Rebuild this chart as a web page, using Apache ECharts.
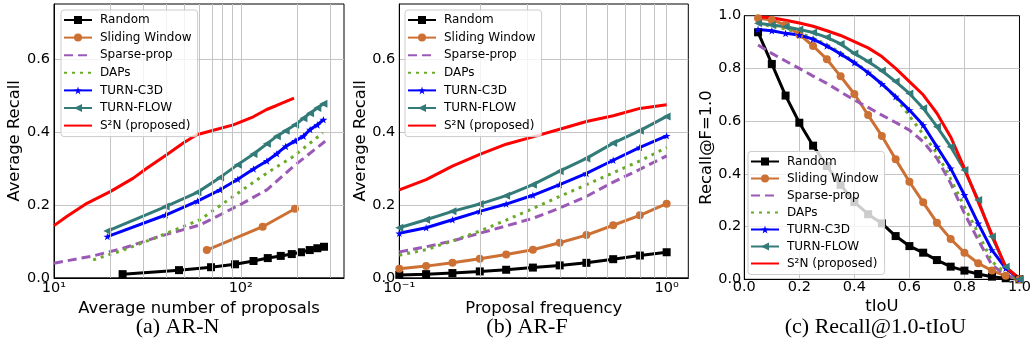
<!DOCTYPE html>
<html><head><meta charset="utf-8">
<script src="https://cdn.jsdelivr.net/npm/echarts@6/dist/echarts.min.js"></script>
<style>html,body{margin:0;padding:0;background:#fff;}#c{width:1034px;height:353px;}</style>
</head><body><div id="c"></div>
<script>
// ---------- (a) AR-N ----------
const aRandomN  = [23.3, 46.7, 69.3, 93.2, 117, 139.5, 163.7, 187.5, 210, 234, 257, 279];
const aRandomAR = [0.010, 0.021, 0.029, 0.037, 0.046, 0.054, 0.060, 0.065, 0.070, 0.076, 0.081, 0.085];
const aSlidingN  = [65.8, 131, 195];
const aSlidingAR = [0.076, 0.140, 0.189];
const aSparseN  = [10, 16.2, 23.5, 35.5, 60.5, 99, 138, 191, 283];
const aSparseAR = [0.040, 0.060, 0.081, 0.111, 0.145, 0.200, 0.241, 0.305, 0.374];
const aDapsN  = [16.2, 23.5, 35.5, 60.5, 99, 138, 191, 275];
const aDapsAR = [0.049, 0.076, 0.111, 0.159, 0.236, 0.287, 0.332, 0.397];
const aTurnN  = [19.3, 39.6, 58.6, 77.5, 96.4, 117, 138, 156, 174, 195.5, 216.6, 235, 257, 277];
const aC3dAR  = [0.113, 0.172, 0.210, 0.241, 0.270, 0.298, 0.320, 0.340, 0.360, 0.375, 0.388, 0.406, 0.419, 0.433];
const aFlowAR = [0.128, 0.195, 0.234, 0.275, 0.310, 0.339, 0.367, 0.388, 0.403, 0.419, 0.437, 0.451, 0.465, 0.477];
const aS2nN  = [10, 11.7, 15.0, 20.0, 26.6, 31.4, 40.1, 49.2, 58.1, 71.3, 91.2, 116.7, 137.6, 155.6, 192.8];
const aS2nAR = [0.143, 0.168, 0.204, 0.236, 0.273, 0.300, 0.337, 0.369, 0.392, 0.404, 0.419, 0.441, 0.461, 0.472, 0.492];
const aMinorTicks = [20, 30, 40, 50, 60, 70, 80, 90, 200, 300];

// ---------- (b) AR-F ----------
const bFreq     = [0.1, 0.126, 0.158, 0.2, 0.251, 0.316, 0.398, 0.501, 0.631, 0.794, 1.0];
const bRandom   = [0.008, 0.010, 0.013, 0.0175, 0.022, 0.028, 0.034, 0.041, 0.051, 0.061, 0.070];
const bSliding  = [0.025, 0.032, 0.041, 0.052, 0.064, 0.077, 0.096, 0.117, 0.144, 0.171, 0.203];
const bSparse   = [0.071, 0.085, 0.101, 0.122, 0.142, 0.163, 0.191, 0.223, 0.262, 0.297, 0.334];
const bDaps     = [0.062, 0.077, 0.101, 0.128, 0.158, 0.190, 0.223, 0.255, 0.288, 0.320, 0.357];
const bC3d      = [0.122, 0.137, 0.159, 0.182, 0.202, 0.226, 0.255, 0.286, 0.322, 0.357, 0.389];
const bFlow     = [0.137, 0.159, 0.182, 0.202, 0.225, 0.255, 0.292, 0.327, 0.369, 0.403, 0.442];
const bS2n      = [0.241, 0.269, 0.306, 0.338, 0.366, 0.386, 0.407, 0.428, 0.444, 0.464, 0.474];
const bMinorTicks = [0.2, 0.3, 0.4, 0.5, 0.6, 0.7, 0.8, 0.9];

// ---------- (c) Recall@1.0-tIoU ----------
const cIoU     = [0.05, 0.10, 0.15, 0.20, 0.25, 0.30, 0.35, 0.40, 0.45, 0.50, 0.55, 0.60, 0.65, 0.70, 0.75, 0.80, 0.85, 0.90, 0.95, 1.00];
const cRandom  = [0.937, 0.817, 0.697, 0.594, 0.507, 0.430, 0.358, 0.293, 0.247, 0.212, 0.164, 0.126, 0.101, 0.073, 0.048, 0.033, 0.020, 0.010, 0.004, 0.0];
const cSliding = [0.990, 0.984, 0.965, 0.929, 0.885, 0.835, 0.770, 0.703, 0.623, 0.544, 0.455, 0.370, 0.292, 0.215, 0.153, 0.101, 0.061, 0.033, 0.013, 0.0];
const cSparse  = [0.889, 0.857, 0.828, 0.800, 0.771, 0.743, 0.711, 0.680, 0.652, 0.623, 0.595, 0.566, 0.522, 0.459, 0.364, 0.250, 0.149, 0.054, 0.016, 0.0];
const cDaps    = [0.970, 0.960, 0.950, 0.935, 0.915, 0.890, 0.860, 0.825, 0.785, 0.742, 0.690, 0.620, 0.550, 0.478, 0.380, 0.275, 0.175, 0.067, 0.023, 0.0];
const cC3d     = [0.948, 0.943, 0.933, 0.927, 0.911, 0.885, 0.855, 0.822, 0.784, 0.741, 0.693, 0.642, 0.585, 0.503, 0.421, 0.320, 0.212, 0.111, 0.042, 0.0];
const cFlow    = [0.971, 0.965, 0.958, 0.948, 0.936, 0.918, 0.893, 0.857, 0.826, 0.791, 0.750, 0.705, 0.649, 0.579, 0.503, 0.415, 0.301, 0.162, 0.048, 0.0];
const cS2n     = [0.996, 0.992, 0.983, 0.972, 0.960, 0.943, 0.925, 0.902, 0.878, 0.845, 0.800, 0.750, 0.700, 0.630, 0.540, 0.421, 0.294, 0.170, 0.045, 0.004];

const names = ['Random', 'Sliding Window', 'Sparse-prop', 'DAPs', 'TURN-C3D', 'TURN-FLOW', 'S\u00B2N (proposed)'];

const FONT = 'DejaVu Sans';
const GRIDC = '#c4c4c4';
const STAR = 'path://M50,0 L61,35 L98,35 L68,57 L79,91 L50,70 L21,91 L32,57 L2,35 L39,35 Z';
const LTRI = 'path://M0,50 L100,0 L100,100 Z';

const styles = {
  'Random':          {color: '#000000', symbol: 'rect', symbolSize: 8, type: 'solid'},
  'Sliding Window':  {color: '#cc7034', symbol: 'circle', symbolSize: 8, type: 'solid'},
  'Sparse-prop':     {color: '#9b59b6', symbol: 'none', symbolSize: 0, type: [9, 5]},
  'DAPs':            {color: '#6aaa28', symbol: 'none', symbolSize: 0, type: [3, 5]},
  'TURN-C3D':        {color: '#0000ff', symbol: STAR, symbolSize: 8, type: 'solid'},
  'TURN-FLOW':       {color: '#327b78', symbol: LTRI, symbolSize: 8, type: 'solid'},
  'S\u00B2N (proposed)': {color: '#ff0000', symbol: 'none', symbolSize: 0, type: 'solid'}
};

function mk(name, xs, ys, gi) {
  const s = styles[name];
  return {
    name: name, type: 'line', xAxisIndex: gi, yAxisIndex: gi,
    data: xs.map((x, i) => [x, ys[i]]),
    symbol: s.symbol, symbolSize: s.symbolSize, showSymbol: s.symbol !== 'none',
    symbolKeepAspect: true,
    lineStyle: {color: s.color, width: 3, type: s.type, cap: 'butt'},
    itemStyle: {color: s.color, borderWidth: 0},
    emphasis: {disabled: true}, silent: true, animation: false, clip: true, z: 2
  };
}
function minor(ticks, gi) {
  return {
    name: 'minor' + gi, type: 'line', xAxisIndex: gi, yAxisIndex: gi, data: [], z: 1,
    silent: true, animation: false,
    markLine: {silent: true, animation: false, symbol: 'none', label: {show: false},
      lineStyle: {color: GRIDC, width: 1, type: 'solid'},
      data: ticks.map(t => ({xAxis: t}))}
  };
}
const SUP = {'-': '\u207B', '0': '\u2070', '1': '\u00B9', '2': '\u00B2', '3': '\u00B3'};
function logFmt(v) {
  const l = Math.log10(v), r = Math.round(l);
  if (Math.abs(l - r) > 1e-6) return '';
  return '10' + String(r).split('').map(ch => SUP[ch]).join('');
}
const tickText = {fontFamily: FONT, fontSize: 14.5, color: '#000'};
const nameText = {fontFamily: FONT, fontSize: 16.4, color: '#000'};
const splitL = {show: true, showMinLine: false, showMaxLine: false, lineStyle: {color: GRIDC, width: 1}};
const axLine = {show: true, lineStyle: {color: '#000', width: 1}};

function legend(left, top, gap) {
  return {
    data: names.map(n => styles[n].symbol === 'none'
      ? {name: n, itemStyle: {opacity: 0, color: 'rgba(0,0,0,0)'}}
      : {name: n}),
    orient: 'vertical', left: left, top: top,
    itemWidth: 28, itemHeight: 10, itemGap: gap,
    padding: [3, 6, 4, 2],
    backgroundColor: 'rgba(255,255,255,0.8)', borderColor: '#cccccc', borderWidth: 1, borderRadius: 3,
    textStyle: {fontFamily: FONT, fontSize: 12, color: '#000', lineHeight: 14, padding: [0, 0, 0, 3]},
    selectedMode: false, z: 10
  };
}

const option = {
  animation: false,
  backgroundColor: '#fff',
  grid: [
    {left: 54, top: 4, width: 290, height: 273.8, show: true, borderColor: '#000', borderWidth: 1, backgroundColor: 'transparent'},
    {left: 399.3, top: 4, width: 289, height: 273.8, show: true, borderColor: '#000', borderWidth: 1, backgroundColor: 'transparent'},
    {left: 744.3, top: 15.7, width: 276.7, height: 263.6, show: true, borderColor: '#000', borderWidth: 1, backgroundColor: 'transparent'}
  ],
  xAxis: [
    {type: 'log', logBase: 10, gridIndex: 0, min: 10, max: 357,
     axisLine: axLine, axisTick: {show: false}, splitLine: splitL,
     axisLabel: Object.assign({formatter: logFmt, margin: 3, showMaxLabel: false}, tickText),
     name: 'Average number of proposals', nameLocation: 'middle', nameGap: 17, nameTextStyle: nameText},
    {type: 'log', logBase: 10, gridIndex: 1, min: 0.1, max: 1.205,
     axisLine: axLine, axisTick: {show: false}, splitLine: splitL,
     axisLabel: Object.assign({formatter: logFmt, margin: 3, showMaxLabel: false}, tickText),
     name: 'Proposal frequency', nameLocation: 'middle', nameGap: 17, nameTextStyle: nameText},
    {type: 'value', gridIndex: 2, min: 0, max: 1, interval: 0.2,
     axisLine: axLine, axisTick: {show: false}, splitLine: splitL,
     axisLabel: Object.assign({formatter: v => v.toFixed(1), margin: 0}, tickText),
     name: 'tIoU', nameLocation: 'middle', nameGap: 14.5, nameTextStyle: nameText}
  ],
  yAxis: [
    {type: 'value', gridIndex: 0, min: 0, max: 0.75, interval: 0.2,
     axisLine: axLine, axisTick: {show: false}, splitLine: splitL,
     axisLabel: Object.assign({formatter: v => v.toFixed(1), margin: 4, showMaxLabel: false}, tickText),
     name: 'Average Recall', nameLocation: 'middle', nameGap: 28, nameTextStyle: nameText},
    {type: 'value', gridIndex: 1, min: 0, max: 0.75, interval: 0.2,
     axisLine: axLine, axisTick: {show: false}, splitLine: splitL,
     axisLabel: Object.assign({formatter: v => v.toFixed(1), margin: 4, showMaxLabel: false}, tickText),
     name: 'Average Recall', nameLocation: 'middle', nameGap: 28, nameTextStyle: nameText},
    {type: 'value', gridIndex: 2, min: 0, max: 1, interval: 0.2,
     axisLine: axLine, axisTick: {show: false}, splitLine: splitL,
     axisLabel: Object.assign({formatter: v => v.toFixed(1), margin: 3}, tickText),
     name: 'Recall@F=1.0', nameLocation: 'middle', nameGap: 30, nameTextStyle: nameText}
  ],
  legend: [legend(61, 10, 3.6), legend(405, 10, 3.6), legend(748, 151.5, 3)],
  graphic: [
    {type: 'text', x: 177.5, y: 327, style: {text: '(a) AR-N', font: '22px "Liberation Serif"', fill: '#000', textAlign: 'center', textVerticalAlign: 'middle'}},
    {type: 'text', x: 527, y: 327, style: {text: '(b) AR-F', font: '22px "Liberation Serif"', fill: '#000', textAlign: 'center', textVerticalAlign: 'middle'}},
    {type: 'text', x: 875.5, y: 327, style: {text: '(c) Recall@1.0-tIoU', font: '22px "Liberation Serif"', fill: '#000', textAlign: 'center', textVerticalAlign: 'middle'}}
  ],
  series: [
    minor(aMinorTicks, 0), minor(bMinorTicks, 1),
    mk(names[0], aRandomN, aRandomAR, 0),
    mk(names[1], aSlidingN, aSlidingAR, 0),
    mk(names[2], aSparseN, aSparseAR, 0),
    mk(names[3], aDapsN, aDapsAR, 0),
    mk(names[4], aTurnN, aC3dAR, 0),
    mk(names[5], aTurnN, aFlowAR, 0),
    mk(names[6], aS2nN, aS2nAR, 0),
    mk(names[0], bFreq, bRandom, 1),
    mk(names[1], bFreq, bSliding, 1),
    mk(names[2], bFreq, bSparse, 1),
    mk(names[3], bFreq, bDaps, 1),
    mk(names[4], bFreq, bC3d, 1),
    mk(names[5], bFreq, bFlow, 1),
    mk(names[6], bFreq, bS2n, 1),
    mk(names[0], cIoU, cRandom, 2),
    mk(names[1], cIoU, cSliding, 2),
    mk(names[2], cIoU, cSparse, 2),
    mk(names[3], cIoU, cDaps, 2),
    mk(names[4], cIoU, cC3d, 2),
    mk(names[5], cIoU, cFlow, 2),
    mk(names[6], cIoU, cS2n, 2)
  ]
};
const chart = echarts.init(document.getElementById('c'), null, {renderer: 'canvas'});
chart.setOption(option);
</script></body></html>
